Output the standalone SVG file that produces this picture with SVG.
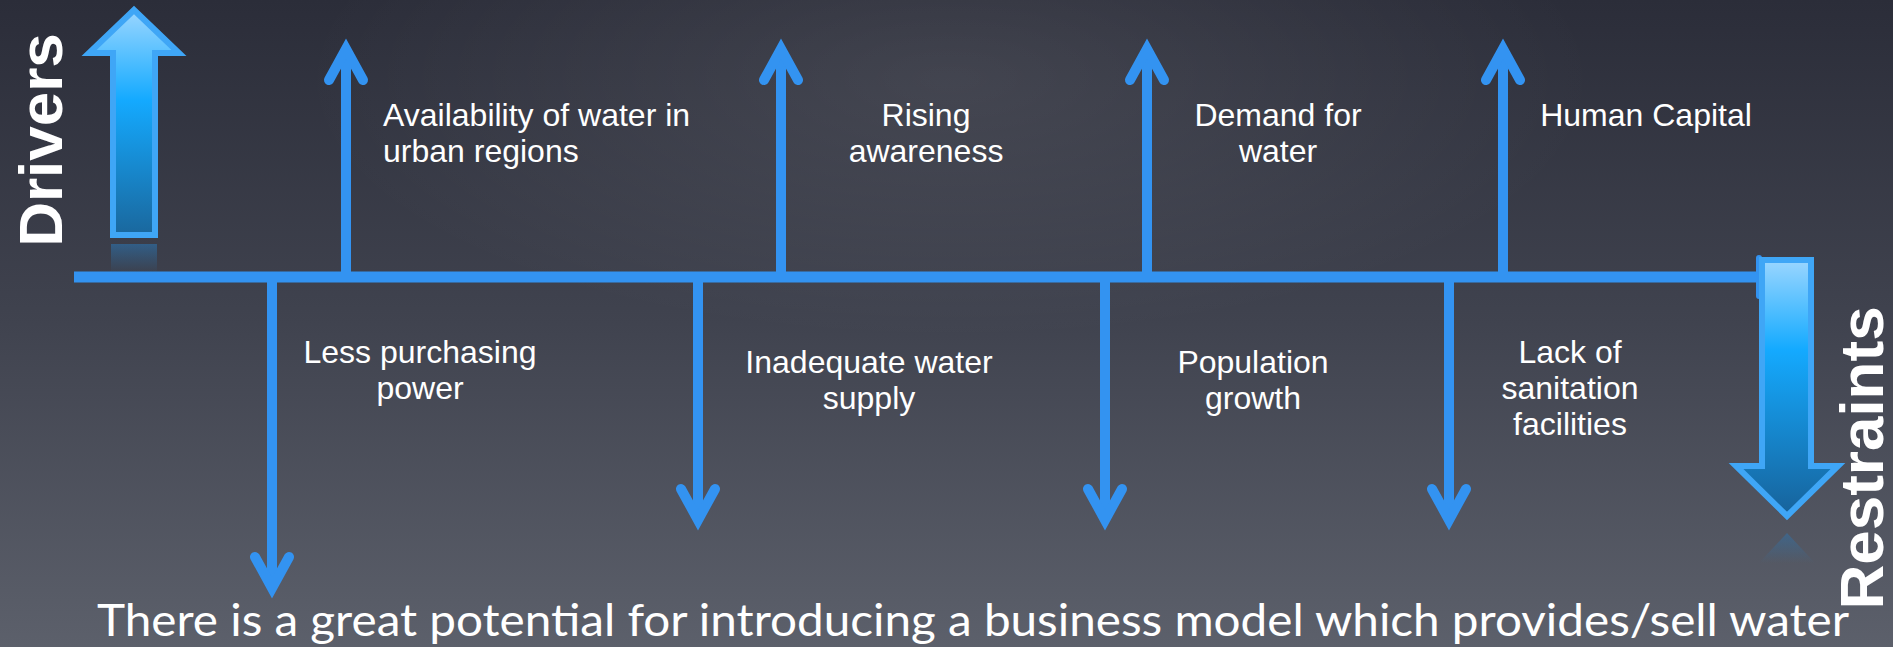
<svg xmlns="http://www.w3.org/2000/svg" width="1893" height="647" viewBox="0 0 1893 647">
<defs>
<linearGradient id="bg" x1="0" y1="0" x2="0" y2="1">
<stop offset="0" stop-color="#2b2d39"/>
<stop offset="0.5" stop-color="#40434f"/>
<stop offset="1" stop-color="#5c606b"/>
</linearGradient>
<radialGradient id="glow" cx="0.5" cy="0.5" r="0.5">
<stop offset="0" stop-color="#ffffff" stop-opacity="0.09"/>
<stop offset="1" stop-color="#ffffff" stop-opacity="0"/>
</radialGradient>
<linearGradient id="bigUp" x1="0" y1="0" x2="0" y2="1">
<stop offset="0" stop-color="#9ad6ff"/>
<stop offset="0.4" stop-color="#14aaff"/>
<stop offset="1" stop-color="#1a679d"/>
</linearGradient>
<linearGradient id="bigDown" x1="0" y1="0" x2="0" y2="1">
<stop offset="0" stop-color="#9ad6ff"/>
<stop offset="0.35" stop-color="#14aaff"/>
<stop offset="1" stop-color="#17629a"/>
</linearGradient>
<linearGradient id="reflUp" x1="0" y1="0" x2="0" y2="1">
<stop offset="0" stop-color="#2a78b8" stop-opacity="0.55"/>
<stop offset="1" stop-color="#2a78b8" stop-opacity="0"/>
</linearGradient>
<linearGradient id="reflDown" x1="0" y1="1" x2="0" y2="0">
<stop offset="0" stop-color="#2a78b8" stop-opacity="0"/>
<stop offset="1" stop-color="#2a78b8" stop-opacity="0.45"/>
</linearGradient>
<path id="headUp" d="M-17,42 L0,11 L17,42"/>
<path id="headDown" d="M-17,-42 L0,-11 L17,-42"/>
</defs>
<style>
.conn{stroke:#3393f1;stroke-width:10;fill:none}
.head{stroke:#3393f1;stroke-width:10;fill:none;stroke-linecap:round;stroke-linejoin:miter;stroke-miterlimit:6}
.lbl{font-family:"Liberation Sans",Arial,sans-serif;font-size:32px;fill:#ffffff}
.big{font-family:"Liberation Sans",Arial,sans-serif;font-size:62px;font-weight:bold;fill:#ffffff}
.bigarrow{stroke:#3fa6f6;stroke-width:6;stroke-linejoin:miter}
</style>
<rect width="1893" height="647" fill="url(#bg)"/>
<ellipse cx="950" cy="80" rx="650" ry="260" fill="url(#glow)"/>

<g id="connectors">
<line class="conn" x1="74" y1="277" x2="1760" y2="277" style="stroke-width:11"/>
<line class="conn" x1="1759" y1="258" x2="1759" y2="296" style="stroke-width:6;stroke-linecap:round"/>
<line class="conn" x1="346" y1="52" x2="346" y2="278"/>
<use href="#headUp" class="head" x="346" y="38"/>
<line class="conn" x1="781" y1="52" x2="781" y2="278"/>
<use href="#headUp" class="head" x="781" y="38"/>
<line class="conn" x1="1147" y1="52" x2="1147" y2="278"/>
<use href="#headUp" class="head" x="1147" y="38"/>
<line class="conn" x1="1503" y1="52" x2="1503" y2="278"/>
<use href="#headUp" class="head" x="1503" y="38"/>
<line class="conn" x1="272" y1="276" x2="272" y2="586"/>
<use href="#headDown" class="head" x="272" y="599"/>
<line class="conn" x1="698" y1="276" x2="698" y2="518"/>
<use href="#headDown" class="head" x="698" y="531"/>
<line class="conn" x1="1105" y1="276" x2="1105" y2="518"/>
<use href="#headDown" class="head" x="1105" y="531"/>
<line class="conn" x1="1449" y1="276" x2="1449" y2="518"/>
<use href="#headDown" class="head" x="1449" y="531"/>
</g>

<g id="drivers">
<rect x="111" y="244" width="46" height="30" fill="url(#reflUp)"/>
<polygon class="bigarrow" fill="url(#bigUp)" points="134,10 179,53 155,53 155,235 113,235 113,53 89,53"/>
<text class="big" transform="translate(62,140) rotate(-90)" text-anchor="middle">Drivers</text>
</g>

<g id="restraints">
<polygon fill="url(#reflDown)" points="1787,533 1815,563 1759,563"/>
<polygon class="bigarrow" fill="url(#bigDown)" points="1762,260 1811,260 1811,466 1838,466 1787,516 1736,466 1762,466"/>
<text class="big" transform="translate(1883,458) rotate(-90)" text-anchor="middle">Restraints</text>
</g>

<g id="d1"><text class="lbl" x="383" y="126">Availability of water in<tspan x="383" dy="36">urban regions</tspan></text></g>
<g id="d2"><text class="lbl" x="926" y="126" text-anchor="middle">Rising<tspan x="926" dy="36">awareness</tspan></text></g>
<g id="d3"><text class="lbl" x="1278" y="126" text-anchor="middle">Demand for<tspan x="1278" dy="36">water</tspan></text></g>
<g id="d4"><text class="lbl" x="1646" y="126" text-anchor="middle">Human Capital</text></g>

<g id="r1"><text class="lbl" x="420" y="363" text-anchor="middle">Less purchasing<tspan x="420" dy="36">power</tspan></text></g>
<g id="r2"><text class="lbl" x="869" y="373" text-anchor="middle">Inadequate water<tspan x="869" dy="36">supply</tspan></text></g>
<g id="r3"><text class="lbl" x="1253" y="373" text-anchor="middle">Population<tspan x="1253" dy="36">growth</tspan></text></g>
<g id="r4"><text class="lbl" x="1570" y="363" text-anchor="middle">Lack of<tspan x="1570" dy="36">sanitation</tspan><tspan x="1570" dy="36">facilities</tspan></text></g>

<g id="summary"><text x="97" y="636" font-family="Lato,'Open Sans',sans-serif" font-size="44" fill="#ffffff" textLength="1752" lengthAdjust="spacingAndGlyphs">There is a great potential for introducing a business model which provides/sell water</text></g>
</svg>
